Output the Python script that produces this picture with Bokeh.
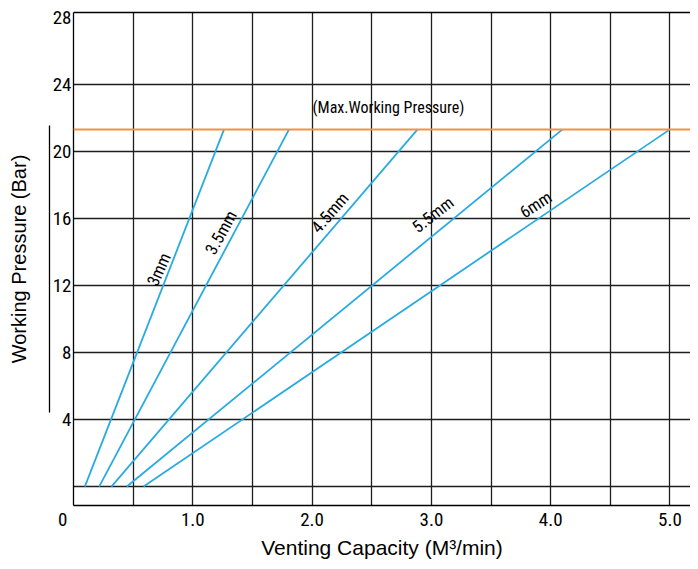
from bokeh.plotting import figure
from bokeh.models import LinearAxis, FixedTicker, Range1d, Span
from bokeh.core.properties import value
from bokeh.embed import file_html
from bokeh.resources import INLINE

# ---- data ----
nozzle_sizes = ["3mm", "3.5mm", "4.5mm", "5.5mm", "6mm"]
capacity_at_zero = [0.095, 0.215, 0.318, 0.447, 0.587]   # M3/min at 0 bar
capacity_at_max = [1.262, 1.807, 2.884, 4.099, 5.0]      # M3/min at max pressure
base_pressure = [0.0, 0.0, 0.0, 0.0, 0.0]
max_working_pressure = 21.3

x_ticks = [0, 1, 2, 3, 4, 5]
x_tick_labels = ["0\u00a0\u00a0\u00a0\u00a0\u00a0", "1.0", "2.0", "3.0", "4.0", "5.0"]
y_ticks = [4, 8, 12, 16, 20, 24, 28]
x_grid = [0.5, 1.0, 1.5, 2.0, 2.5, 3.0, 3.5, 4.0, 4.5, 5.0]
y_grid = [0, 4, 8, 12, 16, 20, 24]

# label placement (data coordinates) and rotation
label_x = [0.715, 1.236, 2.149, 3.012, 3.875]
label_y = [12.95, 15.15, 16.34, 16.22, 16.82]
label_angle = [66, 61, 49, 38, 33]

NARROW = "Roboto Condensed"
SANS = "Liberation Sans"
GRID = "#1e1e1e"
BLUE = "#29abe2"
ORANGE = "#f4923f"

p = figure(width=690, height=561,
           x_range=Range1d(0, 5.172), y_range=Range1d(-1.13, 28.27),
           output_backend="svg", toolbar_location=None,
           min_border_left=73, min_border_right=0, min_border_top=12, min_border_bottom=56)
p.outline_line_color = None
p.background_fill_color = "white"
p.border_fill_color = "white"

# x axis
xa = p.xaxis[0]
xa.ticker = FixedTicker(ticks=x_ticks)
xa.major_label_overrides = {t: lab for t, lab in zip(x_ticks, x_tick_labels)}
xa.major_tick_line_color = None
xa.minor_tick_line_color = None
xa.major_tick_out = 0
xa.major_tick_in = 0
xa.minor_tick_out = 0
xa.minor_tick_in = 0
xa.axis_line_color = "black"
xa.axis_line_width = 1.3
xa.major_label_text_font = NARROW
xa.major_label_text_font_size = "19px"
xa.major_label_text_color = "black"
xa.major_label_standoff = 2
xa.axis_label = "Venting Capacity (M\u00b3/min)"
xa.axis_label_text_font = SANS
xa.axis_label_text_font_size = "21px"
xa.axis_label_text_font_style = "normal"
xa.axis_label_text_color = "black"
xa.axis_label_standoff = 2

# main y axis
ya = p.yaxis[0]
ya.ticker = FixedTicker(ticks=y_ticks)
ya.major_tick_line_color = None
ya.minor_tick_line_color = None
ya.major_tick_out = 0
ya.major_tick_in = 0
ya.minor_tick_out = 0
ya.minor_tick_in = 0
ya.axis_line_color = "black"
ya.axis_line_width = 1.3
ya.major_label_text_font = NARROW
ya.major_label_text_font_size = "19px"
ya.major_label_text_color = "black"
ya.major_label_standoff = 2

# outer bracket axis carrying the title
bracket = LinearAxis(ticker=FixedTicker(ticks=[]), bounds=(4.4, 21.55),
                     axis_line_color="black", axis_line_width=1.3,
                     major_tick_line_color=None, minor_tick_line_color=None,
                     major_tick_out=0, major_tick_in=0, minor_tick_out=0, minor_tick_in=0,
                     major_label_text_font_size="0px", major_label_standoff=0,
                     axis_label="Working Pressure (Bar)",
                     axis_label_text_font=SANS, axis_label_text_font_size="20px",
                     axis_label_text_font_style="normal", axis_label_text_color="black",
                     axis_label_standoff=20)
p.add_layout(bracket, "left")

# top border
top = LinearAxis(ticker=FixedTicker(ticks=[]), axis_line_color="black", axis_line_width=1.3,
                 major_tick_line_color=None, minor_tick_line_color=None,
                 major_tick_out=0, major_tick_in=0, minor_tick_out=0, minor_tick_in=0,
                 major_label_text_font_size="0px", major_label_standoff=0, axis_label_standoff=0)
p.add_layout(top, "above")

# grid
p.xgrid.ticker = FixedTicker(ticks=x_grid)
p.ygrid.ticker = FixedTicker(ticks=y_grid)
for g in (p.xgrid[0], p.ygrid[0]):
    g.grid_line_color = GRID
    g.grid_line_width = 1.3
    g.grid_line_alpha = 1.0

# max working pressure line
p.add_layout(Span(location=max_working_pressure, dimension="width",
                  line_color=ORANGE, line_width=2))
p.text(x=[2.64], y=[max_working_pressure + 1.32], text=["(Max.Working Pressure)"],
       text_font=value(NARROW), text_font_size="16px", text_color="black",
       text_align="center", text_baseline="middle")

# nozzle lines
p.segment(x0=capacity_at_zero, y0=base_pressure,
          x1=capacity_at_max, y1=[max_working_pressure] * len(nozzle_sizes),
          line_color=BLUE, line_width=1.8)

p.text(x=label_x, y=label_y, text=nozzle_sizes, angle=label_angle, angle_units="deg",
       text_font=value(NARROW), text_font_size="17px", text_color="black",
       text_align="center", text_baseline="middle")

open("out.html", "w").write(file_html(p, INLINE))
